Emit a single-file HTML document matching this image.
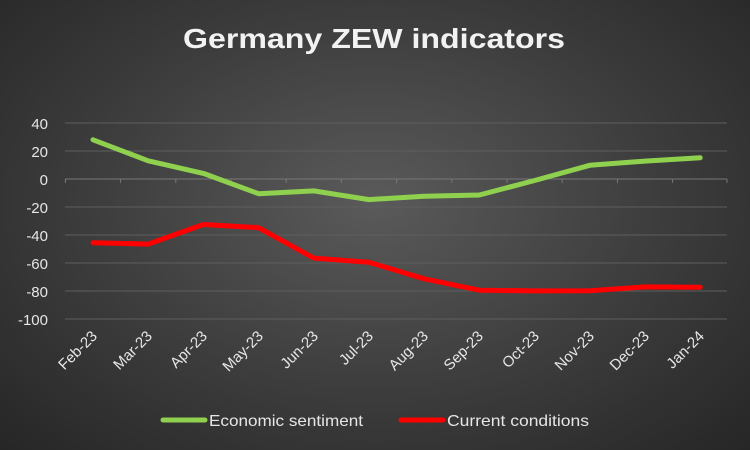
<!DOCTYPE html>
<html><head><style>
html,body{margin:0;padding:0;}
body{width:750px;height:450px;overflow:hidden;background:radial-gradient(ellipse at 50% 45%,#5a5a5a 0%,#3c3c3c 55%,#262626 100%);font-family:"Liberation Sans",sans-serif;}
</style></head><body>
<svg width="750" height="450" xmlns="http://www.w3.org/2000/svg" style="position:absolute;left:0;top:0">
<text x="183" y="48" textLength="382" lengthAdjust="spacingAndGlyphs" fill="#f2f2f2" font-size="28" font-weight="bold" font-family="Liberation Sans, sans-serif">Germany ZEW indicators</text>
<g stroke="#5e5e5e" stroke-width="1">
<line x1="65" x2="727" y1="123" y2="123"/><line x1="65" x2="727" y1="151" y2="151"/>
<line x1="65" x2="727" y1="207" y2="207"/><line x1="65" x2="727" y1="235" y2="235"/>
<line x1="65" x2="727" y1="263" y2="263"/><line x1="65" x2="727" y1="291" y2="291"/>
<line x1="65" x2="727" y1="319" y2="319"/>
</g>
<g stroke="#777" stroke-width="1">
<line x1="65" x2="727" y1="179" y2="179"/>
<line x1="65.4" x2="65.4" y1="179" y2="183"/><line x1="120.6" x2="120.6" y1="179" y2="183"/><line x1="175.8" x2="175.8" y1="179" y2="183"/><line x1="231" x2="231" y1="179" y2="183"/><line x1="286.2" x2="286.2" y1="179" y2="183"/><line x1="341.4" x2="341.4" y1="179" y2="183"/><line x1="396.6" x2="396.6" y1="179" y2="183"/><line x1="451.8" x2="451.8" y1="179" y2="183"/><line x1="507" x2="507" y1="179" y2="183"/><line x1="562.2" x2="562.2" y1="179" y2="183"/><line x1="617.4" x2="617.4" y1="179" y2="183"/><line x1="672.6" x2="672.6" y1="179" y2="183"/><line x1="727" x2="727" y1="179" y2="183"/>
</g>
<g fill="#e6e6e6" font-size="15" text-anchor="end">
<text x="48" y="129">40</text><text x="48" y="157">20</text><text x="48" y="185">0</text><text x="48" y="213">-20</text><text x="48" y="241">-40</text><text x="48" y="269">-60</text><text x="48" y="297">-80</text><text x="48" y="325">-100</text>
</g>
<g fill="#e6e6e6" font-size="15" text-anchor="end">
<text transform="translate(98,337) rotate(-45)">Feb-23</text>
<text transform="translate(153,337) rotate(-45)">Mar-23</text>
<text transform="translate(208,337) rotate(-45)">Apr-23</text>
<text transform="translate(264,337) rotate(-45)">May-23</text>
<text transform="translate(319,337) rotate(-45)">Jun-23</text>
<text transform="translate(374,337) rotate(-45)">Jul-23</text>
<text transform="translate(429,337) rotate(-45)">Aug-23</text>
<text transform="translate(484,337) rotate(-45)">Sep-23</text>
<text transform="translate(540,337) rotate(-45)">Oct-23</text>
<text transform="translate(595,337) rotate(-45)">Nov-23</text>
<text transform="translate(650,337) rotate(-45)">Dec-23</text>
<text transform="translate(705,337) rotate(-45)">Jan-24</text>
</g>
<polyline fill="none" stroke="#8fd14f" stroke-width="5" stroke-linejoin="round" stroke-linecap="round"
points="93,139.8 148.2,160.8 203.4,173.4 258.6,193.7 313.8,190.9 369,199.6 424.2,196.2 479.4,195 534.6,180.5 589.8,165.3 645,161.1 700.2,157.7"/>
<polyline fill="none" stroke="#ff0000" stroke-width="5" stroke-linejoin="round" stroke-linecap="round"
points="93,242.7 148.2,244.1 203.4,224.5 258.6,227.7 313.8,258.1 369,262.3 424.2,278.8 479.4,290.2 534.6,290.9 589.8,290.7 645,286.9 700.2,287.2"/>
<line x1="163" x2="205" y1="420" y2="420" stroke="#8fd14f" stroke-width="5" stroke-linecap="round"/>
<text x="209" y="426" textLength="154" lengthAdjust="spacingAndGlyphs" fill="#e6e6e6" font-size="16">Economic sentiment</text>
<line x1="401" x2="443" y1="420" y2="420" stroke="#ff0000" stroke-width="5" stroke-linecap="round"/>
<text x="447" y="426" textLength="142" lengthAdjust="spacingAndGlyphs" fill="#e6e6e6" font-size="16">Current conditions</text>
</svg>
</body></html>
